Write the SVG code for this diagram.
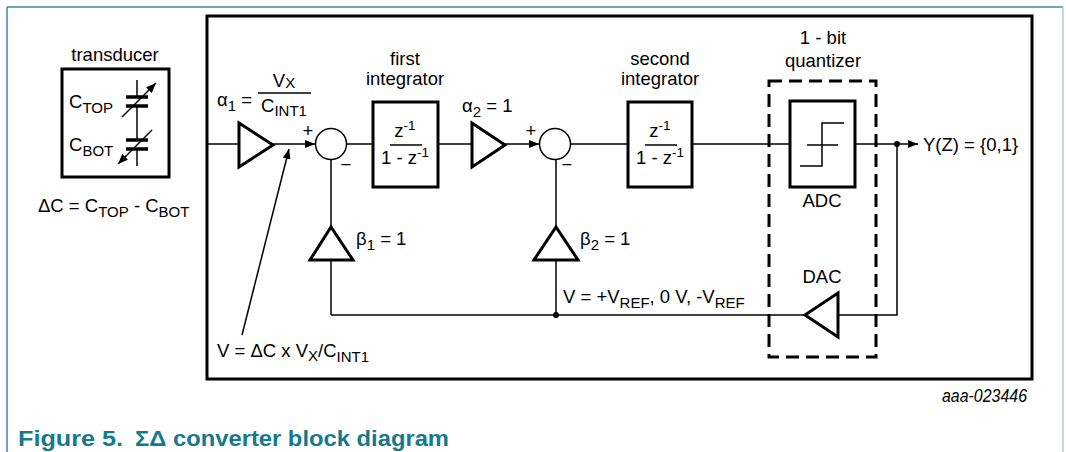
<svg xmlns="http://www.w3.org/2000/svg" width="1066" height="452" viewBox="0 0 1066 452">
<style>
text{font-family:"Liberation Sans",Arial,sans-serif;font-size:18.5px;fill:#000}
.mid{text-anchor:middle}
.sub{font-size:15px}
.sup{font-size:13.5px}
.blk{fill:#fff;stroke:#000;stroke-width:3}
.ln{fill:none;stroke:#000;stroke-width:1.5}
.cap{fill:none;stroke:#000;stroke-width:3.5}
.dash{fill:none;stroke:#000;stroke-width:3;stroke-dasharray:13 7}
.cap-text{font-family:"Liberation Sans Narrow","Liberation Sans",Arial,sans-serif;font-weight:bold;font-size:22px;fill:#157a8b}
</style>
<defs>
<marker id="arr" viewBox="0 0 10 8" refX="10" refY="4" markerWidth="10" markerHeight="8" markerUnits="userSpaceOnUse" orient="auto">
<path d="M0,0 L10,4 L0,8 Z" fill="#000"/>
</marker>
</defs>
<rect width="1066" height="452" fill="#fff"/>
<g id="page-frame">
<line x1="7" y1="7" x2="1063" y2="7" stroke="#3b8c9c" stroke-width="1.5"/>
<line x1="7" y1="7" x2="7" y2="452" stroke="#3b8c9c" stroke-width="1.5"/>
<line x1="1063" y1="7" x2="1063" y2="452" stroke="#a9cfdb" stroke-width="1.5"/>
</g>

<g id="transducer">
<text class="mid" x="115" y="61">transducer</text>
<rect class="blk" x="62" y="69" width="107" height="108"/>
<text x="69" y="108">C<tspan class="sub" dy="5">TOP</tspan></text>
<text x="69" y="151">C<tspan class="sub" dy="5">BOT</tspan></text>
<line class="ln" x1="137" y1="80" x2="137" y2="97"/>
<line class="ln" x1="137" y1="106" x2="137" y2="140"/>
<line class="ln" x1="137" y1="149" x2="137" y2="166"/>
<line class="cap" x1="126" y1="97" x2="148" y2="97"/>
<line class="cap" x1="126" y1="106" x2="148" y2="106"/>
<line class="cap" x1="126" y1="140" x2="148" y2="140"/>
<line class="cap" x1="126" y1="149" x2="148" y2="149"/>
<line class="ln" x1="122" y1="117" x2="156" y2="83" marker-end="url(#arr)"/>
<line class="ln" x1="152" y1="130" x2="118" y2="164" marker-end="url(#arr)"/>
<text x="38" y="212">ΔC = C<tspan class="sub" dy="5">TOP</tspan><tspan dy="-5"> - C</tspan><tspan class="sub" dy="5">BOT</tspan></text>
</g>

<g id="system-frame">
<rect x="207" y="16" width="825" height="363" fill="none" stroke="#000" stroke-width="3"/>
</g>

<g id="connectors">
<line class="ln" x1="207" y1="144" x2="239" y2="144"/>
<line class="ln" x1="273" y1="144" x2="315" y2="144" marker-end="url(#arr)"/>
<line class="ln" x1="346.5" y1="144" x2="373" y2="144"/>
<line class="ln" x1="438" y1="144" x2="472" y2="144"/>
<line class="ln" x1="505" y1="144" x2="539" y2="144" marker-end="url(#arr)"/>
<line class="ln" x1="570.5" y1="144" x2="628" y2="144"/>
<line class="ln" x1="692" y1="144" x2="790" y2="144"/>
<line class="ln" x1="855" y1="144" x2="918" y2="144" marker-end="url(#arr)"/>
<polyline class="ln" points="897,144 897,315 838,315"/>
<line class="ln" x1="805" y1="315" x2="331" y2="315"/>
<line class="ln" x1="331" y1="315" x2="331" y2="260"/>
<line class="ln" x1="331" y1="227" x2="331" y2="159.5"/>
<line class="ln" x1="556" y1="315" x2="556" y2="260"/>
<line class="ln" x1="556" y1="227" x2="556" y2="159.5"/>
<circle cx="897" cy="144" r="3" fill="#000"/>
<circle cx="556" cy="315" r="3" fill="#000"/>
<line class="ln" x1="242" y1="335" x2="289" y2="149" marker-end="url(#arr)"/>
</g>

<g id="alpha1">
<polygon class="blk" points="239,123 239,167 273,145"/>
<text x="217" y="106">α<tspan class="sub" dy="5">1</tspan><tspan dy="-5"> =</tspan></text>
<text class="mid" x="284" y="87">V<tspan class="sub" dy="1">X</tspan></text>
<line class="ln" x1="258" y1="93" x2="311" y2="93"/>
<text class="mid" x="284" y="112">C<tspan class="sub" dy="4">INT1</tspan></text>
</g>

<g id="sum1">
<circle cx="331" cy="144" r="15.5" fill="#fff" stroke="#000" stroke-width="1.5"/>
<text class="mid" x="308" y="137" font-size="16">+</text>
<text class="mid" x="346" y="171" font-size="16">−</text>
</g>

<g id="integrator1">
<text class="mid" x="405" y="65">first</text>
<text class="mid" x="405" y="85">integrator</text>
<rect class="blk" x="373" y="102" width="65" height="85"/>
<text class="mid" x="405" y="137">z<tspan class="sup" dy="-7">-1</tspan></text>
<line class="ln" x1="390" y1="145" x2="422" y2="145"/>
<text class="mid" x="405" y="164">1 - z<tspan class="sup" dy="-7">-1</tspan></text>
</g>

<g id="alpha2">
<polygon class="blk" points="472,123 472,167 505,145"/>
<text x="462" y="112">α<tspan class="sub" dy="5">2</tspan><tspan dy="-5"> = 1</tspan></text>
</g>

<g id="sum2">
<circle cx="555" cy="144" r="15.5" fill="#fff" stroke="#000" stroke-width="1.5"/>
<text class="mid" x="531" y="137" font-size="16">+</text>
<text class="mid" x="567" y="171" font-size="16">−</text>
</g>

<g id="integrator2">
<text class="mid" x="660" y="65">second</text>
<text class="mid" x="660" y="85">integrator</text>
<rect class="blk" x="628" y="102" width="64" height="85"/>
<text class="mid" x="660" y="137">z<tspan class="sup" dy="-7">-1</tspan></text>
<line class="ln" x1="645" y1="145" x2="677" y2="145"/>
<text class="mid" x="660" y="164">1 - z<tspan class="sup" dy="-7">-1</tspan></text>
</g>

<g id="beta1">
<polygon class="blk" points="310,260 353,260 331,227"/>
<text x="356" y="245">β<tspan class="sub" dy="5">1</tspan><tspan dy="-5"> = 1</tspan></text>
</g>

<g id="beta2">
<polygon class="blk" points="534,260 578,260 556,227"/>
<text x="580" y="245">β<tspan class="sub" dy="5">2</tspan><tspan dy="-5"> = 1</tspan></text>
</g>

<g id="quantizer">
<text class="mid" x="823" y="44">1 - bit</text>
<text class="mid" x="823" y="67">quantizer</text>
<rect class="dash" x="769" y="81" width="107" height="276"/>
</g>

<g id="adc">
<rect class="blk" x="790" y="101" width="65" height="86"/>
<line class="ln" x1="807" y1="145" x2="838" y2="145"/>
<polyline class="ln" points="800,166 822,166 822,123 844,123"/>
<text class="mid" x="822" y="207">ADC</text>
</g>

<g id="dac">
<polygon class="blk" points="838,293 838,337 805,315"/>
<text class="mid" x="822" y="283">DAC</text>
</g>

<g id="output">
<text x="923" y="151">Y(Z) = {0,1}</text>
</g>

<g id="labels">
<text x="563" y="303">V = +V<tspan class="sub" dy="5">REF</tspan><tspan dy="-5">, 0 V, -V</tspan><tspan class="sub" dy="5">REF</tspan></text>
<text x="217" y="357">V = ΔC x V<tspan class="sub" dy="4">X</tspan><tspan dy="-4">/C</tspan><tspan class="sub" dy="5">INT1</tspan></text>
<text x="1027" y="402" text-anchor="end" font-style="italic" font-size="15" textLength="85" lengthAdjust="spacingAndGlyphs">aaa-023446</text>
</g>

<g id="caption">
<text class="cap-text" x="18" y="446" textLength="105" lengthAdjust="spacingAndGlyphs">Figure 5.</text>
<text class="cap-text" x="135" y="446" textLength="314" lengthAdjust="spacingAndGlyphs">ΣΔ converter block diagram</text>
</g>
</svg>
